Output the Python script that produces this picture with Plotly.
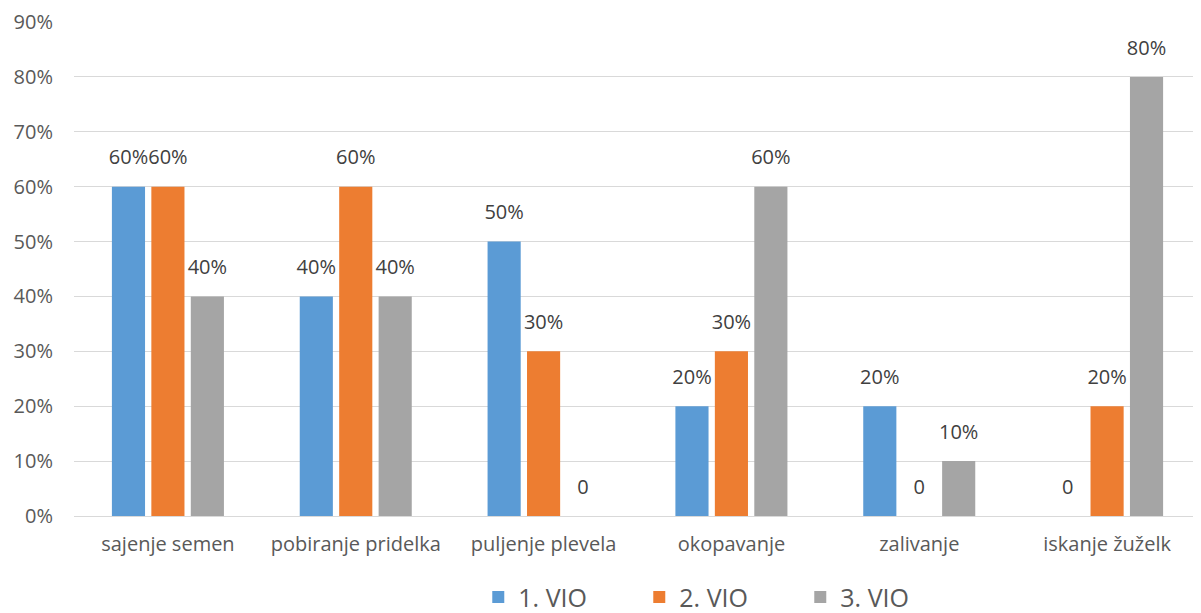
import plotly.graph_objects as go

categories = ["sajenje semen", "pobiranje pridelka", "puljenje plevela", "okopavanje", "zalivanje", "iskanje žuželk"]
vio1 = [0.60, 0.40, 0.50, 0.20, 0.20, 0.0]
vio2 = [0.60, 0.60, 0.30, 0.30, 0.0, 0.20]
vio3 = [0.40, 0.40, 0.0, 0.60, 0.10, 0.80]
series_names = ["1. VIO", "2. VIO", "3. VIO"]
colors = ["#5B9BD5", "#ED7D31", "#A5A5A5"]
tick_vals = [0, 0.1, 0.2, 0.3, 0.4, 0.5, 0.6, 0.7, 0.8, 0.9]
tick_text = ["0%", "10%", "20%", "30%", "40%", "50%", "60%", "70%", "80%", "90%"]

def fmt(v):
    return "0" if v == 0 else f"{round(v*100)}%"

FONT = "Open Sans"
fig = go.Figure()
for i, (name, vals, col) in enumerate(zip(series_names, [vio1, vio2, vio3], colors)):
    fig.add_trace(go.Bar(
        x=categories, y=vals, name=name, marker=dict(color=col, line=dict(width=0)),
        offsetgroup=str(i),
    ))
for i, vals in enumerate([vio1, vio2, vio3]):
    fig.add_trace(go.Scatter(
        x=categories, y=vals, mode="markers+text", offsetgroup=str(i),
        marker=dict(size=26, opacity=0), text=[fmt(v) for v in vals],
        textposition="top center", cliponaxis=False, showlegend=False,
        hoverinfo="skip", textfont=dict(family=FONT, size=20, color="#404040"),
    ))

fig.update_layout(
    width=1193, height=605,
    margin=dict(l=66, r=0, t=14, b=97, autoexpand=False),
    plot_bgcolor="white", paper_bgcolor="white",
    barmode="group", bargap=0.37, bargroupgap=0.16,
    scattermode="group", scattergap=0.37,
    font=dict(family=FONT, size=20, color="#595959"),
    legend=dict(orientation="h", x=0.573, xanchor="center", y=-0.118, yanchor="top",
                font=dict(size=25, color="#595959"), entrywidth=116,
                traceorder="normal"),
    xaxis=dict(showgrid=False, showline=True, linecolor="#D9D9D9", linewidth=1,
               ticks="", tickfont=dict(size=20), ticklabelstandoff=10),
    yaxis=dict(range=[0, 0.9], tickvals=tick_vals, ticktext=tick_text, showgrid=True,
               gridcolor="#D9D9D9", gridwidth=1, zeroline=False, showline=False,
               ticks="", ticklabelstandoff=20, tickfont=dict(size=20)),
)
fig.write_html("out.html")
